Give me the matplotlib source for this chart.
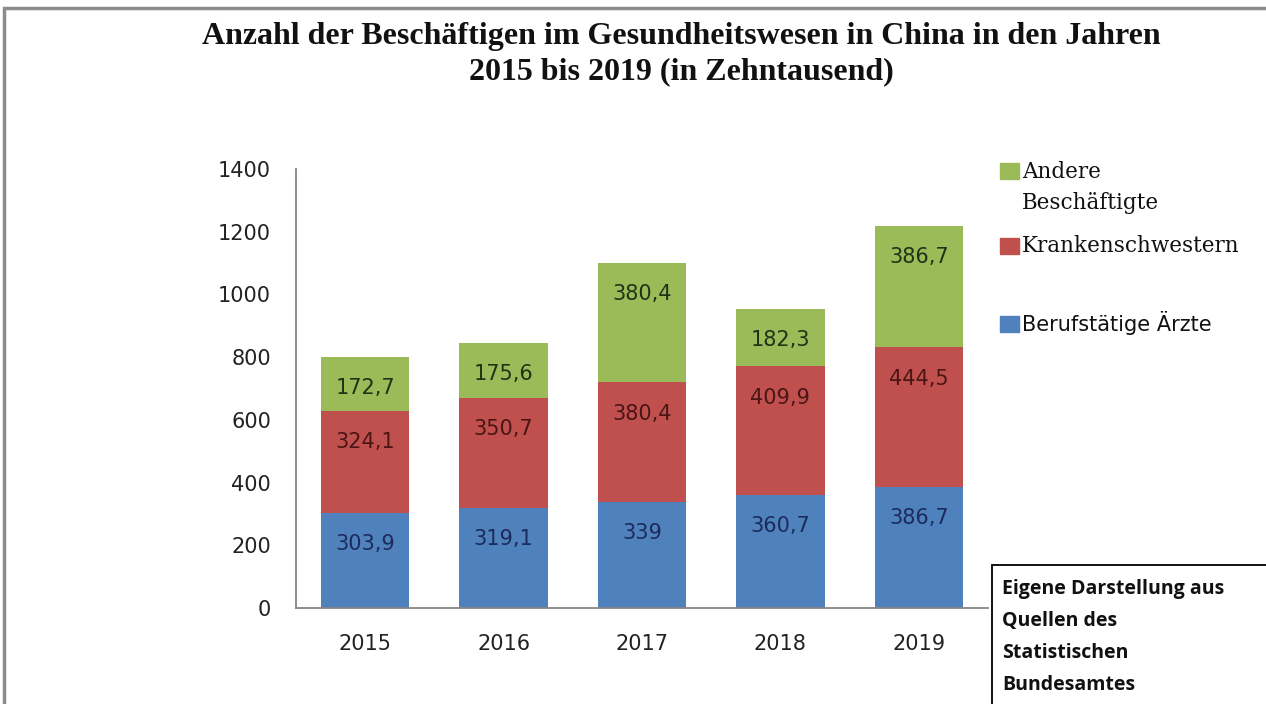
import matplotlib
matplotlib.use("Agg")
import matplotlib.pyplot as plt
from matplotlib.patches import Rectangle
import numpy as np

years = ["2015", "2016", "2017", "2018", "2019"]
aerzte = [303.9, 319.1, 339, 360.7, 386.7]
kranken = [324.1, 350.7, 380.4, 409.9, 444.5]
andere = [172.7, 175.6, 380.4, 182.3, 386.7]
labels_aerzte = ["303,9", "319,1", "339", "360,7", "386,7"]
labels_kranken = ["324,1", "350,7", "380,4", "409,9", "444,5"]
labels_andere = ["172,7", "175,6", "380,4", "182,3", "386,7"]
yticks = [0, 200, 400, 600, 800, 1000, 1200, 1400]

W, H = 1266, 704
fig = plt.figure(figsize=(W / 100, H / 100), dpi=100)

def fx(x):
    return x / W

def fy(y):
    return 1 - y / H

# outer frame
fig.patches.append(Rectangle((fx(4), fy(712)), fx(1275) - fx(4), fy(8) - fy(712),
                             transform=fig.transFigure, fill=False,
                             edgecolor="#8c8c8c", lw=2.5, zorder=0))

ax = fig.add_axes([fx(296), fy(608), fx(988) - fx(296), fy(169) - fy(608)])
x = np.arange(len(years))
blue, red, green = "#4F81BD", "#C0504D", "#9BBB59"
bw = 0.64
ax.bar(x, aerzte, bw, color=blue)
bottom2 = np.array(aerzte)
ax.bar(x, kranken, bw, bottom=bottom2, color=red)
bottom3 = bottom2 + np.array(kranken)
ax.bar(x, andere, bw, bottom=bottom3, color=green)

tops = [bottom2, bottom3, bottom3 + np.array(andere)]
series_labels = [labels_aerzte, labels_kranken, labels_andere]
label_colors = ["#1d2b5c", "#4a1515", "#1f3316"]
for top, labs, col in zip(tops, series_labels, label_colors):
    for xi, t, lab in zip(x, top, labs):
        ax.annotate(lab, (xi, t), xytext=(0, -22.5), textcoords="offset points",
                    ha="center", va="center", fontsize=15, color=col,
                    family="DejaVu Sans")

ax.set_xlim(-0.5, len(years) - 0.5)
ax.set_ylim(0, 1400)
ax.set_yticks(yticks)
ax.set_yticklabels([str(v) for v in yticks])
ax.set_xticks(x)
ax.set_xticklabels(years)
ax.tick_params(axis="both", length=0, labelsize=15, colors="#222222")
ax.tick_params(axis="y", pad=18)
ax.tick_params(axis="x", pad=19)
for s in ["top", "right"]:
    ax.spines[s].set_visible(False)
for s in ["left", "bottom"]:
    ax.spines[s].set_color("#868686")
    ax.spines[s].set_linewidth(1.3)

# title
fig.text(fx(681), fy(54), "Anzahl der Beschäftigen im Gesundheitswesen in China in den Jahren\n2015 bis 2019 (in Zehntausend)",
         ha="center", va="center", fontsize=23, fontweight="bold",
         family="Liberation Serif", linespacing=1.25, color="#111111")

# legend
legend_items = [(green, 163, ["Andere", "Beschäftigte"], [172, 203], "DejaVu Serif", 15.5),
                (red, 238, ["Krankenschwestern"], [246], "DejaVu Serif", 15.5),
                (blue, 316, ["Berufstätige Ärzte"], [323], "DejaVu Sans", 15)]
for col, ytop, texts, ycs, fam, fs in legend_items:
    fig.patches.append(Rectangle((fx(1000), fy(ytop + 16)), fx(19), fy(0) - fy(16),
                                 transform=fig.transFigure, color=col))
    for t, yc in zip(texts, ycs):
        fig.text(fx(1022), fy(yc), t, ha="left", va="center", fontsize=fs,
                 family=fam, color="#111111")

# source box
fig.patches.append(Rectangle((fx(992), fy(712)), fx(1275) - fx(992), fy(565) - fy(712),
                             transform=fig.transFigure, fill=True, facecolor="white",
                             edgecolor="black", lw=1.3, zorder=1))
for t, yc in zip(["Eigene Darstellung aus", "Quellen des", "Statistischen", "Bundesamtes"],
                 [589, 621, 653, 685]):
    fig.text(fx(1002), fy(yc), t, ha="left", va="center", fontsize=14,
             fontweight="bold", family="Open Sans", color="#111111", zorder=2)

fig.savefig("out.png", dpi=100)
